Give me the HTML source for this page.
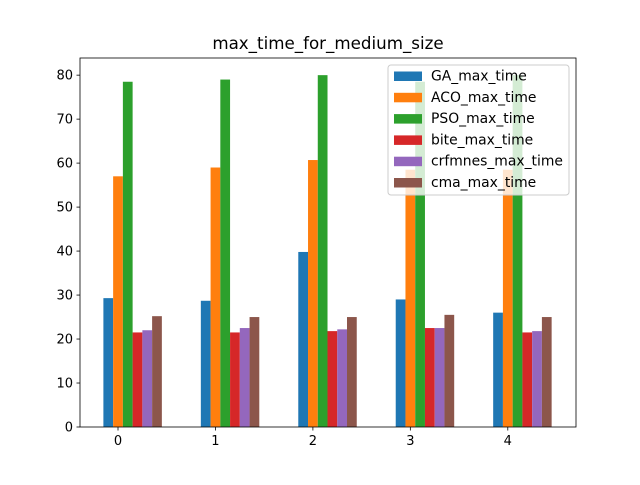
<!DOCTYPE html>
<html><head><meta charset="utf-8"><style>
body{margin:0;background:#fff;}
svg text{font-family:"DejaVu Sans","Liberation Sans",sans-serif;fill:#000;}
</style></head><body>
<svg id="chart" width="640" height="480" xmlns="http://www.w3.org/2000/svg">
<rect width="640" height="480" fill="#fff"/>
<g id="bars"></g>
<g id="axes"></g>
<g id="legend"></g>
</svg>
<script>
const categories=["0","1","2","3","4"];
const seriesNames=["GA_max_time","ACO_max_time","PSO_max_time","bite_max_time","crfmnes_max_time","cma_max_time"];
const gaValues=[29.3,28.7,39.8,29.0,26.0];
const acoValues=[57.0,59.0,60.7,58.5,58.5];
const psoValues=[78.5,79.0,80.0,78.5,80.0];
const biteValues=[21.5,21.5,21.8,22.5,21.5];
const crfmnesValues=[22.0,22.5,22.2,22.5,21.8];
const cmaValues=[25.2,25.0,25.0,25.5,25.0];
const yTicks=[0,10,20,30,40,50,60,70,80];
const colors=["#1f77b4","#ff7f0e","#2ca02c","#d62728","#9467bd","#8c564b"];
const series=[gaValues,acoValues,psoValues,biteValues,crfmnesValues,cmaValues];
const NS="http://www.w3.org/2000/svg";
const L=80,R=576,T=58,B=427;
const xmin=-0.39,xmax=4.70,ymax=83.9;
const xs=v=>L+(v-xmin)/(xmax-xmin)*(R-L);
const ys=v=>B-v/ymax*(B-T);
function mk(tag,attrs,parent){const e=document.createElementNS(NS,tag);for(const k in attrs)e.setAttribute(k,attrs[k]);parent.appendChild(e);return e;}
const gb=document.getElementById('bars');
series.forEach((vals,si)=>{vals.forEach((v,ci)=>{
 const c=ci+si*0.1-0.1;
 const r=mk('rect',{x:xs(c-0.05),y:ys(v),width:xs(c+0.05)-xs(c-0.05),height:ys(0)-ys(v),fill:colors[si]},gb);
 
 
});});
const ga=document.getElementById('axes');
const frame=mk('rect',{x:L,y:T,width:R-L,height:B-T,fill:'none',stroke:'#000','stroke-width':0.8},ga);


yTicks.forEach(t=>{
 mk('line',{x1:L-3.5,x2:L,y1:ys(t),y2:ys(t),stroke:'#000','stroke-width':0.8},ga);
 const tx=mk('text',{x:L-7,y:ys(t)+4.5,'text-anchor':'end','font-size':13},ga);tx.textContent=t;
 
 
});
categories.forEach((c,i)=>{
 mk('line',{x1:xs(i),x2:xs(i),y1:B,y2:B+3.5,stroke:'#000','stroke-width':0.8},ga);
 const tx=mk('text',{x:xs(i),y:B+18,'text-anchor':'middle','font-size':13},ga);tx.textContent=c;
 
 
});
const title=mk('text',{x:(L+R)/2,y:49,'text-anchor':'middle','font-size':16.7},ga);title.textContent='max_time_for_medium_size';


const gl=document.getElementById('legend');
const lb=mk('rect',{x:388,y:65,width:181,height:130,rx:3,fill:'#fff','fill-opacity':0.8,stroke:'#ccc'},gl);


seriesNames.forEach((n,i)=>{
 const y=76+i*21.3;
 mk('rect',{x:394,y:y-4.5,width:28,height:9.5,fill:colors[i]},gl);
 const tx=mk('text',{x:431,y:y+4.5,'font-size':13.9},gl);tx.textContent=n;
 
 
});
</script>
</body></html>
